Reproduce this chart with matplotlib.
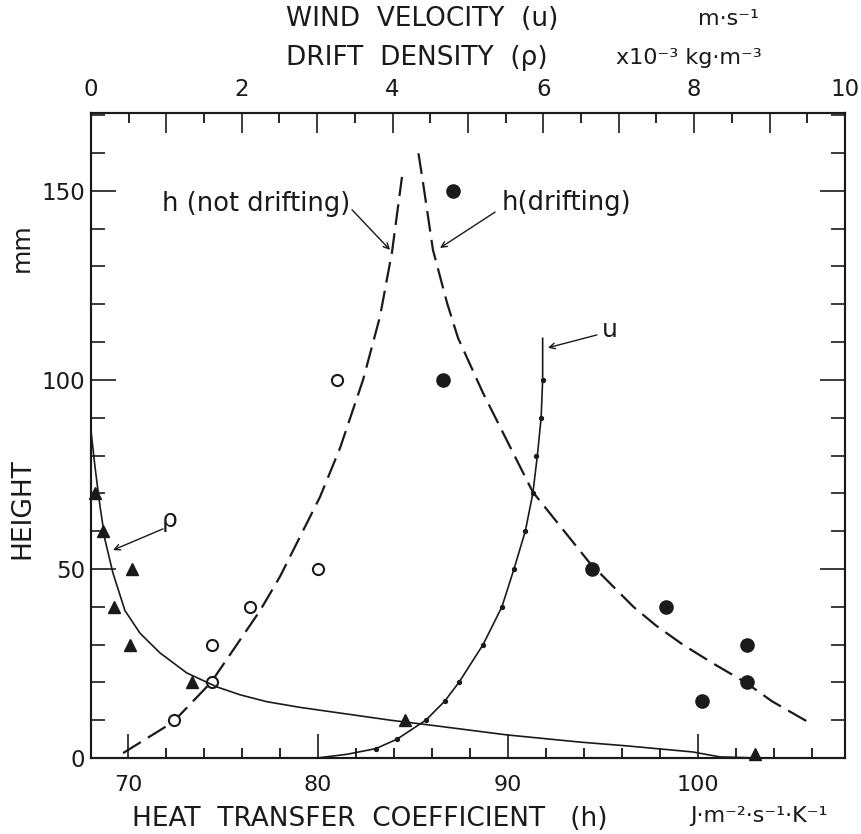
import matplotlib
matplotlib.use("Agg")
import matplotlib.pyplot as plt
import numpy as np

plt.rcParams['font.family'] = ['DejaVu Sans']
plt.rcParams['lines.scale_dashes'] = False

# heights (mm)
z_pts = [10, 20, 30, 40, 50, 100]
# h not drifting, open circles
h_nd = [72.4, 74.4, 74.4, 76.4, 80.0, 81.0]
z_dr = [15, 20, 30, 40, 50, 100, 150]
# h drifting, filled circles
h_dr = [100.2, 102.6, 102.6, 98.3, 94.4, 86.6, 87.1]

# fitted h curves
h_nd_fit = [69.74, 72.37, 74.37, 76.95, 78.0, 79.05, 80.1, 81.16, 82.37, 83.26, 83.9, 84.42]
z_nd_fit = [1.3, 9.5, 20, 39, 48, 58.5, 69, 82, 100, 116.7, 134, 153.7]
h_dr_fit = [105.7, 103.9, 102.5, 100.8, 99.2, 97.8, 96.6, 94.3, 91.3, 88.68, 87.37,
            86.79, 86.05, 85.53, 85.26]
z_dr_fit = [9.8, 15, 20, 25, 30, 35, 40, 51.6, 70.4, 96.6, 111.1,
            120.4, 134.4, 152.1, 160.8]

# wind velocity u (m/s), dots and curve
z_u = [2.5, 5, 10, 15, 20, 30, 40, 50, 60, 70, 80, 90, 100]
u_pts = [3.78, 4.06, 4.44, 4.69, 4.88, 5.20, 5.45, 5.61, 5.76, 5.86, 5.90, 5.97, 5.99]
u_fit = [3.0, 3.4, 3.78, 4.06, 4.44, 4.69, 4.88, 5.20, 5.45, 5.61, 5.76, 5.86, 5.92, 5.97, 5.99, 5.99]
z_ufit = [0, 1, 2.5, 5, 10, 15, 20, 30, 40, 50, 60, 70, 80, 90, 100, 111]

# drift density rho (x10^-3 kg/m3)
z_rho = [70, 60, 50, 40, 30, 20, 10, 1]
rho_pts = [0.05, 0.16, 0.54, 0.30, 0.52, 1.34, 4.17, 8.81]
rho_fit = [0.0, 0.053, 0.12, 0.186, 0.29, 0.45, 0.65, 0.915, 1.27, 1.67, 1.98, 2.33, 2.77,
           3.97, 4.50, 5.52, 6.49, 7.11, 7.98, 8.34, 8.83]
z_rhofit = [86.5, 77, 66.5, 57.7, 49, 39, 33, 27.8, 22.5, 18.8, 16.7, 14.9, 13.4,
            10, 8.7, 6.1, 4.2, 3.2, 1.6, 0.3, 0]

top_ticks = np.arange(0, 11, 1)
top_labels = ['0', '', '2', '', '4', '', '6', '', '8', '', '10']

W, H = 862, 834
fig = plt.figure(figsize=(W / 100, H / 100), dpi=100)
ax = fig.add_axes([91 / W, 1 - 758 / H, (845 - 91) / W, (758 - 113) / H])
ax2 = ax.twiny()

ink = '#1a1a1a'
dash = (0, (15, 6))

ax.plot(h_nd_fit, z_nd_fit, color=ink, lw=1.6, ls=dash)
ax.plot(h_dr_fit, z_dr_fit, color=ink, lw=1.6, ls=dash)
ax.plot(h_nd, z_pts, 'o', ms=8, mfc='white', mec=ink, mew=1.5)
ax.plot(h_dr, z_dr, 'o', ms=9.5, color=ink)

ax2.plot(u_fit, z_ufit, color=ink, lw=1.2)
ax2.plot(u_pts, z_u, 'o', ms=2.8, color=ink)
ax2.plot(rho_fit, z_rhofit, color=ink, lw=1.2)
ax2.plot(rho_pts, z_rho, '^', ms=9, color=ink, clip_on=False)

ax.set_xlim(68.05, 107.74)
ax.set_ylim(0, 170.6)
ax2.set_xlim(0, 10)

for a in (ax, ax2):
    for s in a.spines.values():
        s.set_linewidth(1.5)
        s.set_color(ink)

ax.set_xticks([70, 80, 90, 100])
ax.set_xticks(np.arange(72, 107, 2), minor=True)
ax.set_yticks([0, 50, 100, 150])
ax.set_yticks(np.arange(10, 171, 10), minor=True)
ax.tick_params(axis='x', which='major', direction='in', length=17, width=1.2,
               labelsize=16, pad=12, colors=ink)
ax.tick_params(axis='x', which='minor', direction='in', length=7.5, width=1.2)
ax.tick_params(axis='y', which='both', direction='in', right=True, width=1.2,
               labelsize=16.5, pad=4, colors=ink)
ax.tick_params(axis='y', which='major', length=18)
ax.tick_params(axis='y', which='minor', length=10)

ax2.set_xticks(top_ticks)
ax2.set_xticklabels(top_labels)
ax2.set_xticks(np.arange(0.5, 10, 1), minor=True)
ax2.tick_params(axis='x', which='major', direction='in', length=14.5, width=1.2,
                labelsize=16.5, pad=9, colors=ink)
ax2.tick_params(axis='x', which='minor', direction='in', length=7.5, width=1.2)

arrow = dict(arrowstyle='->', color=ink, lw=1.0, shrinkA=0, shrinkB=0)
ax.annotate('', xy=(83.79, 134.4), xytext=(81.79, 145.0), arrowprops=arrow)
ax.text(81.68, 146.6, 'h (not drifting)', ha='right', va='center', fontsize=18.5, color=ink)
ax.annotate('', xy=(86.42, 134.9), xytext=(89.32, 144.4), arrowprops=arrow)
ax.text(89.68, 146.8, 'h(drifting)', ha='left', va='center', fontsize=18.5, color=ink)
ax.annotate('', xy=(92.1, 108.5), xytext=(94.68, 111.9), arrowprops=arrow)
ax.text(95.37, 113.3, 'u', ha='center', va='center', fontsize=18, color=ink)
ax.annotate('', xy=(69.21, 55.0), xytext=(71.84, 60.6), arrowprops=arrow)
ax.text(72.21, 63.0, 'ρ', ha='center', va='center', fontsize=18, color=ink)

# axis titles
def ftext(px, py, s, **kw):
    fig.text(px / W, 1 - py / H, s, color=ink, **kw)

ftext(286, 19, 'WIND  VELOCITY  (u)', fontsize=19, va='center', ha='left')
ftext(698, 19, 'm·s⁻¹', fontsize=16, va='center', ha='left')
ftext(286, 58, 'DRIFT  DENSITY  (ρ)', fontsize=19, va='center', ha='left')
ftext(616, 58, 'x10⁻³ kg·m⁻³', fontsize=16, va='center', ha='left')
ftext(132, 819, 'HEAT  TRANSFER  COEFFICIENT   (h)', fontsize=19, va='center', ha='left')
ftext(690, 816, 'J·m⁻²·s⁻¹·K⁻¹', fontsize=16, va='center', ha='left')
ftext(22, 509, 'HEIGHT', fontsize=19, va='center', ha='center', rotation=90)
ftext(22, 248, 'mm', fontsize=18, va='center', ha='center', rotation=90)

fig.savefig('out.png', dpi=100, facecolor='white')
